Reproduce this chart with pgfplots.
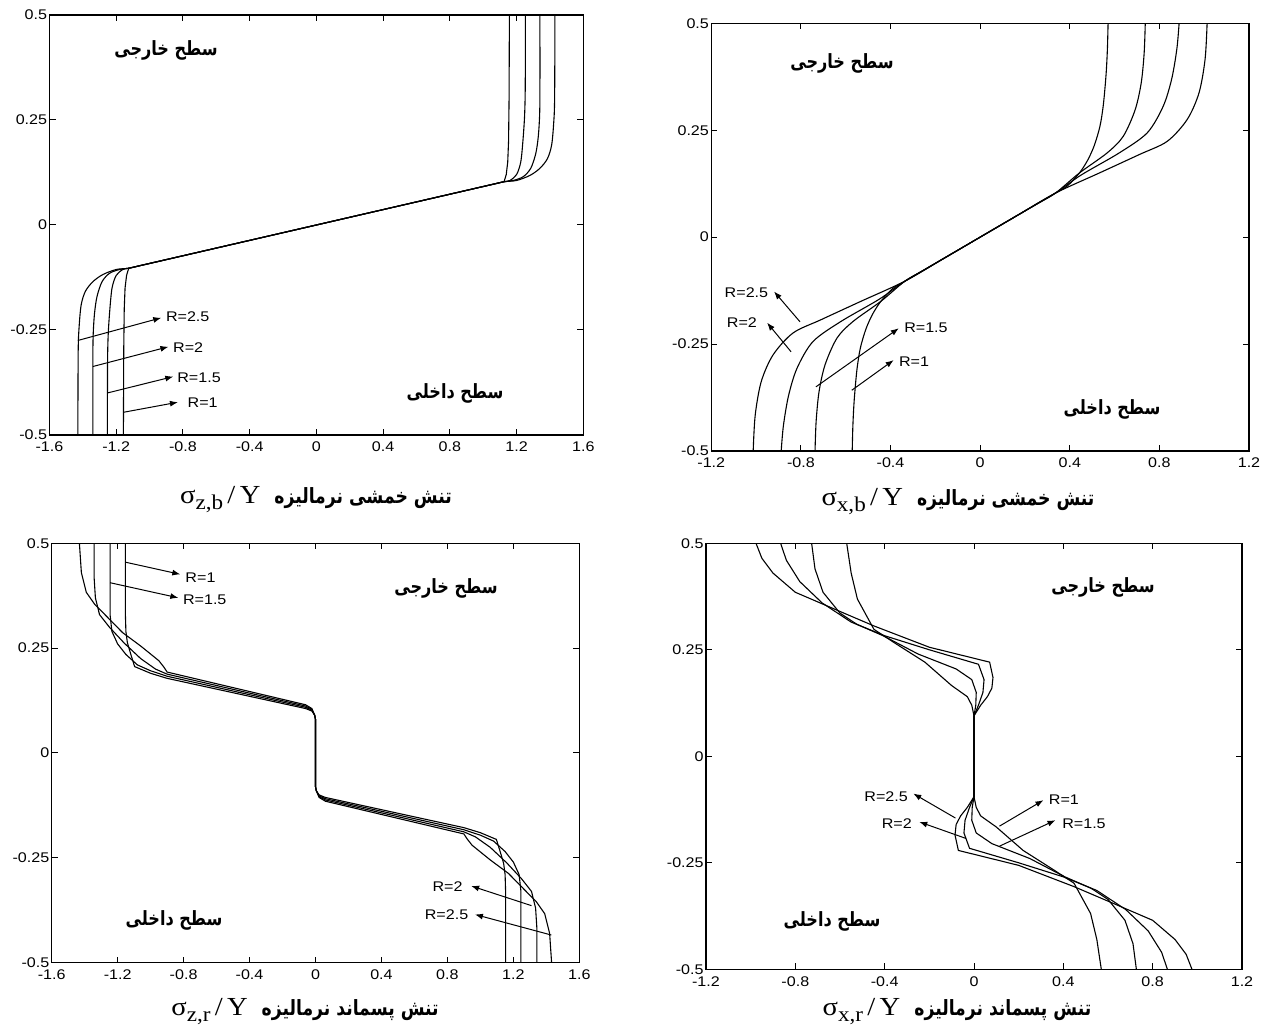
\documentclass[border=0pt]{standalone}
\usepackage{fontspec}
\setmainfont{Liberation Serif}
\newfontfamily\tickfont[FakeStretch=1.15]{Liberation Sans}
\newfontfamily\lblfont[FakeStretch=1.1]{Liberation Serif}
\newfontfamily\fa[Script=Arabic,FakeStretch=0.82]{DejaVu Sans}
\usepackage{pgfplots}
\pgfplotsset{compat=1.18}
\usetikzlibrary{arrows.meta}
\TeXXeTstate=1

\newcommand\tf{\tickfont\fontsize{7}{8}\selectfont}
\newcommand\xl[2]{{\lblfont\fontsize{13}{14}\selectfont σ\raisebox{-0.5ex}{\fontsize{10.5}{11}\selectfont #1}\,/\,Y}\hspace{7pt}{\fa\bfseries\fontsize{10.5}{12}\selectfont #2}}
\newcommand\fat{\fa\bfseries\fontsize{9.8}{11}\selectfont}

\pgfplotsset{
  panel/.style={
    scale only axis, anchor=north west,
    ymin=-0.5, ymax=0.5,
    ytick={-0.5,-0.25,0,0.25,0.5}, yticklabels={-0.5,-0.25,0,0.25,0.5},
    tick align=inside, tick pos=both,
    major tick length=3pt,
    axis line style={line width=0.55pt},
    every tick/.style={black, line width=0.5pt},
    tick label style={font=\tf},
    xticklabel style={inner sep=1.3pt, yshift=-2pt},
    yticklabel style={inner sep=1pt},
    cycle list={{black, line width=0.55pt}},
    every axis plot/.append style={black, line width=0.55pt, no markers},
  },
  wide/.style={xmin=-1.6, xmax=1.6,
    xtick={-1.6,-1.2,-0.8,-0.4,0,0.4,0.8,1.2,1.6},
    xticklabels={-1.6,-1.2,-0.8,-0.4,0,0.4,0.8,1.2,1.6}},
  narrow/.style={xmin=-1.2, xmax=1.2,
    xtick={-1.2,-0.8,-0.4,0,0.4,0.8,1.2},
    xticklabels={-1.2,-0.8,-0.4,0,0.4,0.8,1.2}},
}
\tikzset{arr/.style={-{Latex[length=4pt,width=3pt]}, line width=0.5pt},
  rl/.style={font=\tf, inner sep=0.5pt}}

\begin{document}
\begin{tikzpicture}
\path[use as bounding box] (0,0) rectangle (635pt,-518pt);

% ---------------- Panel 1 : sigma_z,b
\begin{axis}[panel, wide, at={(24.75pt,-7.5pt)}, width=266.9pt, height=210pt]
\addplot[black] coordinates {(-1.157,-0.5) (-1.155,-0.3) (-1.152,-0.2) (-1.147,-0.15) (-1.138,-0.12) (-1.125,-0.103) (-1.0,-0.0916) (0,0) (1.0,0.0916) (1.125,0.103) (1.138,0.12) (1.147,0.15) (1.152,0.2) (1.155,0.3) (1.157,0.5)};
\addplot[black, smooth, tension=0.5] coordinates {(-1.253,-0.5) (-1.252,-0.33) (-1.248,-0.26) (-1.238,-0.2) (-1.225,-0.15) (-1.2,-0.12) (-1.16,-0.106) (-1.125,-0.103) (-1.08,-0.0989) (-1.0,-0.0916) (0,0) (1.0,0.0916) (1.08,0.0989) (1.125,0.103) (1.16,0.106) (1.2,0.12) (1.225,0.15) (1.238,0.2) (1.248,0.26) (1.252,0.33) (1.253,0.5)};
\addplot[black, smooth, tension=0.5] coordinates {(-1.34,-0.5) (-1.34,-0.32) (-1.338,-0.26) (-1.33,-0.21) (-1.315,-0.17) (-1.285,-0.135) (-1.24,-0.115) (-1.18,-0.106) (-1.125,-0.103) (-1.06,-0.0971) (-1.0,-0.0916) (0,0) (1.0,0.0916) (1.06,0.0971) (1.125,0.103) (1.18,0.106) (1.24,0.115) (1.285,0.135) (1.315,0.17) (1.33,0.21) (1.338,0.26) (1.34,0.32) (1.34,0.5)};
\addplot[black, smooth, tension=0.5] coordinates {(-1.43,-0.5) (-1.428,-0.3) (-1.422,-0.24) (-1.41,-0.19) (-1.385,-0.158) (-1.34,-0.135) (-1.28,-0.118) (-1.2,-0.106) (-1.125,-0.103) (-1.05,-0.0961) (-0.95,-0.087) (0,0) (0.95,0.087) (1.05,0.0961) (1.125,0.103) (1.2,0.106) (1.28,0.118) (1.34,0.135) (1.385,0.158) (1.41,0.19) (1.422,0.24) (1.428,0.3) (1.43,0.5)};
\draw[arr] (axis cs:-1.43,-0.275) -- (axis cs:-0.93,-0.221);
\node[rl,anchor=west] at (axis cs:-0.91,-0.218) {R=2.5};
\draw[arr] (axis cs:-1.34,-0.337) -- (axis cs:-0.887,-0.29);
\node[rl,anchor=west] at (axis cs:-0.867,-0.292) {R=2};
\draw[arr] (axis cs:-1.253,-0.40) -- (axis cs:-0.858,-0.361);
\node[rl,anchor=west] at (axis cs:-0.842,-0.363) {R=1.5};
\draw[arr] (axis cs:-1.157,-0.446) -- (axis cs:-0.83,-0.422);
\node[rl,anchor=west] at (axis cs:-0.78,-0.424) {R=1};
\end{axis}

% ---------------- Panel 2 : sigma_x,b
\begin{axis}[panel, narrow, at={(355.65pt,-11.65pt)}, width=268.85pt, height=213.85pt]
\addplot[black, smooth, tension=0.5] coordinates {(-0.571,-0.5) (-0.568,-0.44) (-0.562,-0.38) (-0.55,-0.31) (-0.535,-0.26) (-0.51,-0.215) (-0.48,-0.18) (-0.443,-0.15) (-0.39,-0.12) (-0.336,-0.103) (-0.28,-0.0858) (-0.2,-0.0613) (0,0) (0.2,0.0613) (0.28,0.0858) (0.336,0.103) (0.39,0.12) (0.443,0.15) (0.48,0.18) (0.51,0.215) (0.535,0.26) (0.55,0.31) (0.562,0.38) (0.568,0.44) (0.571,0.5)};
\addplot[black, smooth, tension=0.5] coordinates {(-0.737,-0.5) (-0.732,-0.43) (-0.719,-0.361) (-0.692,-0.298) (-0.639,-0.236) (-0.567,-0.197) (-0.443,-0.15) (-0.336,-0.103) (-0.25,-0.0766) (0,0) (0.25,0.0766) (0.336,0.103) (0.443,0.15) (0.567,0.197) (0.639,0.236) (0.692,0.298) (0.719,0.361) (0.732,0.43) (0.737,0.5)};
\addplot[black, smooth, tension=0.5] coordinates {(-0.888,-0.5) (-0.878,-0.44) (-0.855,-0.37) (-0.817,-0.306) (-0.746,-0.244) (-0.621,-0.197) (-0.45,-0.145) (-0.336,-0.103) (-0.22,-0.0674) (0,0) (0.22,0.0674) (0.336,0.103) (0.45,0.145) (0.621,0.197) (0.746,0.244) (0.817,0.306) (0.855,0.37) (0.878,0.44) (0.888,0.5)};
\addplot[black, smooth, tension=0.5] coordinates {(-1.013,-0.5) (-1.004,-0.416) (-0.977,-0.3375) (-0.924,-0.275) (-0.835,-0.224) (-0.71,-0.193) (-0.532,-0.15) (-0.336,-0.103) (-0.17,-0.0521) (0,0) (0.17,0.0521) (0.336,0.103) (0.532,0.15) (0.71,0.193) (0.835,0.224) (0.924,0.275) (0.977,0.3375) (1.004,0.416) (1.013,0.5)};
\draw[arr] (axis cs:-0.804,-0.198) -- (axis cs:-0.92,-0.127);
\node[rl,anchor=east] at (axis cs:-0.94,-0.131) {R=2.5};
\draw[arr] (axis cs:-0.844,-0.268) -- (axis cs:-0.951,-0.2);
\node[rl,anchor=east] at (axis cs:-0.99,-0.2) {R=2};
\draw[arr] (axis cs:-0.733,-0.35) -- (axis cs:-0.363,-0.213);
\node[rl,anchor=west] at (axis cs:-0.345,-0.213) {R=1.5};
\draw[arr] (axis cs:-0.573,-0.358) -- (axis cs:-0.386,-0.2875);
\node[rl,anchor=west] at (axis cs:-0.368,-0.291) {R=1};
\end{axis}

% ---------------- Panel 3 : sigma_z,r
\begin{axis}[panel, wide, at={(25.85pt,-271.65pt)}, width=263.8pt, height=209.7pt]
\addplot[black] coordinates {(1.153,-0.5) (1.153,-0.33) (1.15,-0.29) (1.141,-0.263) (1.12,-0.235) (1.097,-0.206) (1.0,-0.19) (0.9,-0.178) (0.06,-0.106) (0.022,-0.1) (0.005,-0.09) (0,-0.08) (0,0.08) (-0.005,0.09) (-0.022,0.1) (-0.06,0.106) (-0.9,0.178) (-1.0,0.19) (-1.097,0.206) (-1.12,0.235) (-1.141,0.263) (-1.15,0.29) (-1.153,0.33) (-1.153,0.5)};
\addplot[black] coordinates {(1.246,-0.5) (1.246,-0.33) (1.235,-0.29) (1.2,-0.26) (1.15,-0.235) (1.08,-0.21) (1.0,-0.196) (0.9,-0.183) (0.06,-0.109) (0.022,-0.102) (0.005,-0.09) (0,-0.08) (0,0.08) (-0.005,0.09) (-0.022,0.102) (-0.06,0.109) (-0.9,0.183) (-1.0,0.196) (-1.08,0.21) (-1.15,0.235) (-1.2,0.26) (-1.235,0.29) (-1.246,0.33) (-1.246,0.5)};
\addplot[black] coordinates {(1.343,-0.5) (1.343,-0.42) (1.335,-0.37) (1.31,-0.33) (1.25,-0.3) (1.16,-0.262) (1.06,-0.225) (0.97,-0.2) (0.9,-0.188) (0.06,-0.112) (0.022,-0.104) (0.005,-0.09) (0,-0.08) (0,0.08) (-0.005,0.09) (-0.022,0.104) (-0.06,0.112) (-0.9,0.188) (-0.97,0.2) (-1.06,0.225) (-1.16,0.262) (-1.25,0.3) (-1.31,0.33) (-1.335,0.37) (-1.343,0.42) (-1.343,0.5)};
\addplot[black] coordinates {(1.432,-0.5) (1.42,-0.43) (1.39,-0.383) (1.34,-0.355) (1.27,-0.327) (1.17,-0.287) (1.06,-0.255) (0.95,-0.22) (0.92,-0.205) (0.9,-0.193) (0.06,-0.115) (0.022,-0.106) (0.005,-0.09) (0,-0.08) (0,0.08) (-0.005,0.09) (-0.022,0.106) (-0.06,0.115) (-0.9,0.193) (-0.92,0.205) (-0.95,0.22) (-1.06,0.255) (-1.17,0.287) (-1.27,0.327) (-1.34,0.355) (-1.39,0.383) (-1.42,0.43) (-1.432,0.5)};
\draw[arr] (axis cs:-1.153,0.455) -- (axis cs:-0.82,0.426);
\node[rl,anchor=west] at (axis cs:-0.797,0.418) {R=1};
\draw[arr] (axis cs:-1.246,0.406) -- (axis cs:-0.832,0.37);
\node[rl,anchor=west] at (axis cs:-0.812,0.365) {R=1.5};
\draw[arr] (axis cs:1.31,-0.364) -- (axis cs:0.944,-0.317);
\node[rl,anchor=east] at (axis cs:0.9,-0.318) {R=2};
\draw[arr] (axis cs:1.43,-0.434) -- (axis cs:0.967,-0.385);
\node[rl,anchor=east] at (axis cs:0.935,-0.386) {R=2.5};
\end{axis}

% ---------------- Panel 4 : sigma_x,r
\begin{axis}[panel, narrow, at={(353pt,-271.65pt)}, width=268pt, height=213pt]
\addplot[black] coordinates {(0.57,-0.5) (0.55,-0.43) (0.522,-0.369) (0.448,-0.298) (0.358,-0.267) (0.22,-0.221) (0.1,-0.166) (0.03,-0.14) (0.01,-0.12) (0,-0.095) (0,0.095) (-0.01,0.12) (-0.03,0.14) (-0.1,0.166) (-0.22,0.221) (-0.358,0.267) (-0.448,0.298) (-0.522,0.369) (-0.55,0.43) (-0.57,0.5)};
\addplot[black] coordinates {(0.727,-0.5) (0.712,-0.44) (0.676,-0.385) (0.6,-0.336) (0.525,-0.31) (0.407,-0.283) (0.25,-0.24) (0.08,-0.205) (0.01,-0.18) (-0.01,-0.15) (-0.008,-0.12) (0,-0.095) (0,0.095) (0.008,0.12) (0.01,0.15) (-0.01,0.18) (-0.08,0.205) (-0.25,0.24) (-0.407,0.283) (-0.525,0.31) (-0.6,0.336) (-0.676,0.385) (-0.712,0.44) (-0.727,0.5)};
\addplot[black] coordinates {(0.866,-0.5) (0.84,-0.46) (0.78,-0.41) (0.68,-0.36) (0.55,-0.315) (0.4,-0.283) (0.2,-0.25) (-0.02,-0.216) (-0.045,-0.18) (-0.04,-0.15) (-0.02,-0.12) (0,-0.095) (0,0.095) (0.02,0.12) (0.04,0.15) (0.045,0.18) (0.02,0.216) (-0.2,0.25) (-0.4,0.283) (-0.55,0.315) (-0.68,0.36) (-0.78,0.41) (-0.84,0.46) (-0.866,0.5)};
\addplot[black] coordinates {(0.976,-0.5) (0.95,-0.465) (0.9,-0.43) (0.8,-0.385) (0.6,-0.34) (0.448,-0.306) (0.2,-0.256) (-0.07,-0.221) (-0.085,-0.185) (-0.08,-0.16) (-0.06,-0.14) (-0.03,-0.12) (0,-0.095) (0,0.095) (0.03,0.12) (0.06,0.14) (0.08,0.16) (0.085,0.185) (0.07,0.221) (-0.2,0.256) (-0.448,0.306) (-0.6,0.34) (-0.8,0.385) (-0.9,0.43) (-0.95,0.465) (-0.976,0.5)};
\draw[arr] (axis cs:-0.083,-0.145) -- (axis cs:-0.272,-0.0875);
\node[rl,anchor=east] at (axis cs:-0.29,-0.094) {R=2.5};
\draw[arr] (axis cs:-0.035,-0.193) -- (axis cs:-0.245,-0.154);
\node[rl,anchor=east] at (axis cs:-0.272,-0.158) {R=2};
\draw[arr] (axis cs:0.114,-0.164) -- (axis cs:0.311,-0.103);
\node[rl,anchor=west] at (axis cs:0.329,-0.103) {R=1};
\draw[arr] (axis cs:0.114,-0.211) -- (axis cs:0.365,-0.15);
\node[rl,anchor=west] at (axis cs:0.389,-0.158) {R=1.5};
\end{axis}

% ---------------- texts in pixel coordinates
\begin{scope}[x=0.5pt,y=-0.5pt]
\node at (166,50) {\fat\beginR سطح خارجی\endR};
\node at (455,393) {\fat\beginR سطح داخلی\endR};
\node at (842,63) {\fat\beginR سطح خارجی\endR};
\node at (1112,409) {\fat\beginR سطح داخلی\endR};
\node at (446,588) {\fat\beginR سطح خارجی\endR};
\node at (174,920) {\fat\beginR سطح داخلی\endR};
\node at (1103,587) {\fat\beginR سطح خارجی\endR};
\node at (832,921) {\fat\beginR سطح داخلی\endR};
\node at (316,500) {\xl{z,b}{\beginR تنش خمشی نرمالیزه\endR}};
\node at (958,502) {\xl{x,b}{\beginR تنش خمشی نرمالیزه\endR}};
\node at (305,1012) {\xl{z,r}{\beginR تنش پسماند نرمالیزه\endR}};
\node at (957,1012) {\xl{x,r}{\beginR تنش پسماند نرمالیزه\endR}};
\end{scope}
\end{tikzpicture}
\end{document}
